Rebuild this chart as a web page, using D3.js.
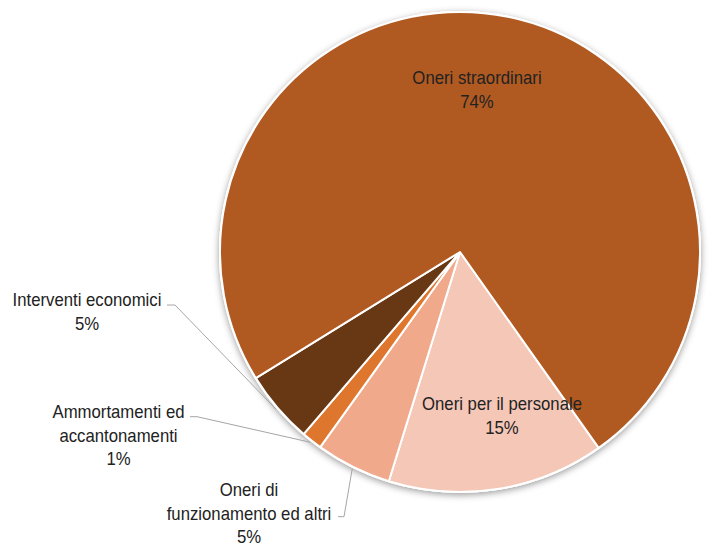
<!DOCTYPE html>
<html><head><meta charset="utf-8">
<script src="https://cdn.jsdelivr.net/npm/d3@7"></script>
<style>body{margin:0;background:#fff}svg{display:block}</style>
</head><body>
<script>
const categories = ["Oneri per il personale","Oneri di funzionamento ed altri","Ammortamenti ed accantonamenti","Interventi economici","Oneri straordinari"];
const values = [14.6, 5.1, 1.4, 4.9, 74.0];
const colors = ["#F5C7B7","#F0A98A","#DE762E","#683815","#B05A22"];
const labelLines = [["Oneri per il personale"],["Oneri di","funzionamento ed altri"],["Ammortamenti ed","accantonamenti"],["Interventi economici"],["Oneri straordinari"]];

const W=722,H=546, cx=460, cy=252, R=240;
const svg=d3.select("body").append("svg").attr("width",W).attr("height",H);
const defs=svg.append("defs");
const f=defs.append("filter").attr("id","sh").attr("x","-20%").attr("y","-20%").attr("width","140%").attr("height","140%");
f.append("feDropShadow").attr("dx",0).attr("dy",2).attr("stdDeviation",3.5).attr("flood-color","#000").attr("flood-opacity",0.4);

const data=categories.map((c,i)=>({c,v:values[i],col:colors[i],lines:labelLines[i]}));
const start=144.7*Math.PI/180;
const pie=d3.pie().value(d=>d.v).sort(null).startAngle(start).endAngle(start+2*Math.PI);
const arcs=pie(data);
const arc=d3.arc().innerRadius(0).outerRadius(R);
const g=svg.append("g").attr("transform",`translate(${cx},${cy})`);
g.append("circle").attr("r",R+1).attr("fill","#fff").attr("filter","url(#sh)");
g.selectAll("path").data(arcs).enter().append("path").attr("d",arc)
 .attr("fill",d=>d.data.col).attr("stroke","#fff").attr("stroke-width",2).attr("stroke-linejoin","round");

// label layout (centers) and leader anchors
const layout=[
 {x:502,y:404,inside:true},
 {x:249,y:490,lead:{x0:338,y0:516.7,x1:344}},
 {x:118.5,y:412,lead:{x0:190,y0:416.7,x1:197}},
 {x:87,y:300,lead:{x0:167,y0:305,x1:175}},
 {x:477,y:78,inside:true}
];
const lh=23.5;
const fmt=v=>Math.round(v)+"%";
arcs.forEach((a,i)=>{
  const L=layout[i];
  const lines=a.data.lines.concat([fmt(a.data.v)]);
  lines.forEach((t,k)=>{
    svg.append("g").attr("transform",`translate(${L.x},${L.y+k*lh}) scale(0.93,1)`)
      .append("text").attr("text-anchor","middle").attr("dominant-baseline","central")
      .attr("font-family","Liberation Sans, Arial, sans-serif").attr("font-size",18).attr("fill","#222").text(t);
  });
  if(L.lead){
    const mid=(a.startAngle+a.endAngle)/2;
    const ex=cx+Math.sin(mid)*(R+2), ey=cy-Math.cos(mid)*(R+2);
    svg.append("path").attr("d",`M${L.lead.x0},${L.lead.y0}L${L.lead.x1},${L.lead.y0}L${ex},${ey}`)
      .attr("fill","none").attr("stroke","#A6A6A6").attr("stroke-width",1);
  }
});
</script>
</body></html>
